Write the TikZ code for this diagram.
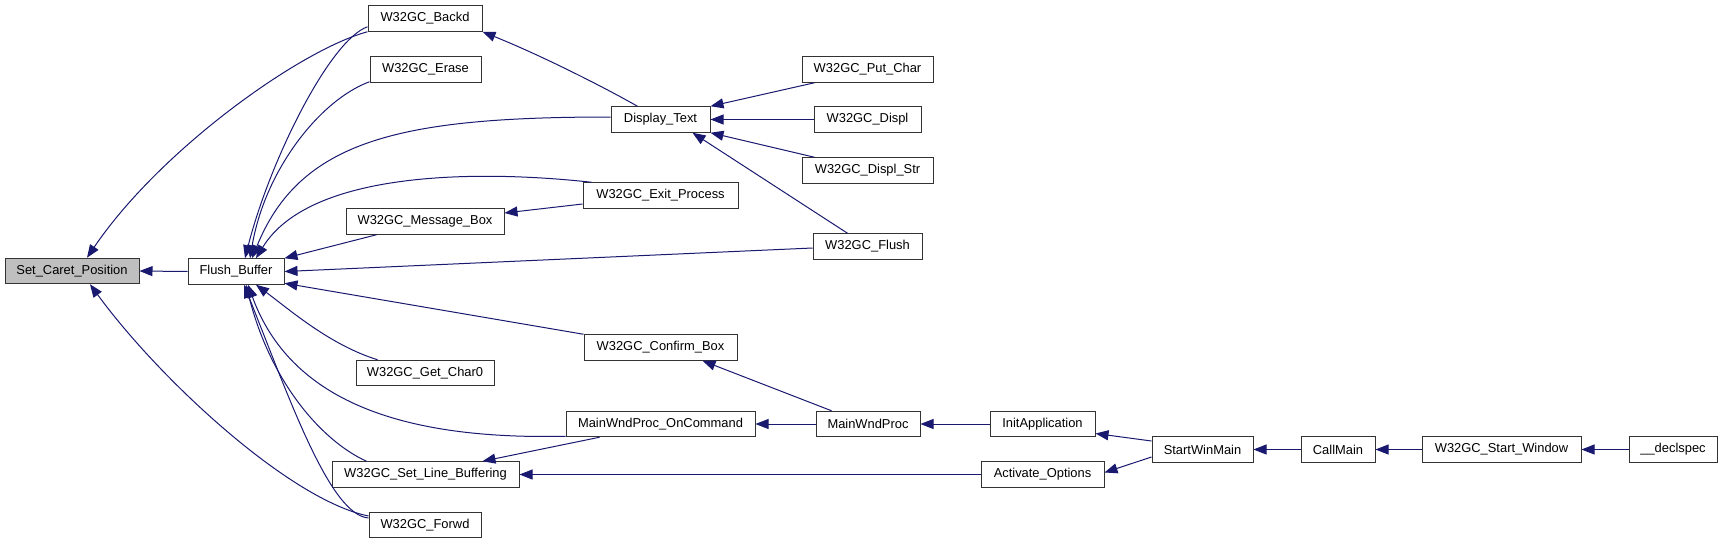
\documentclass[tikz,border=0pt]{standalone}
\usepackage{fontspec}
\setmainfont{Liberation Sans}
\usetikzlibrary{arrows.meta}
\definecolor{edgec}{HTML}{191970}
\definecolor{hl}{HTML}{BFBFBF}
\begin{document}
\begin{tikzpicture}[x=1pt,y=-1pt,
  box/.style={draw=black!80, line width=1pt, fill=white, inner sep=0pt,
    minimum height=25.5pt, font=\fontsize{12.9}{14}\selectfont},
  edge/.style={draw=edgec, line width=1pt, -{Triangle[length=13pt,width=10pt]}}]
\useasboundingbox (0,0) rectangle (1723,544);
% nodes
\node[box, minimum width=134pt, fill=hl] (SCP) at (72,271) {Set\_Caret\_Position};
\node[box, minimum width=96pt] (FB) at (236,271.5) {Flush\_Buffer};
\node[box, minimum width=114pt] (Backd) at (425,18.5) {W32GC\_Backd};
\node[box, minimum width=111pt] (Erase) at (425.5,69.5) {W32GC\_Erase};
\node[box, minimum width=158pt] (MsgBox) at (425,221.5) {W32GC\_Message\_Box};
\node[box, minimum width=138pt] (GetChar) at (425,373) {W32GC\_Get\_Char0};
\node[box, minimum width=187pt] (SetLine) at (425.5,474.5) {W32GC\_Set\_Line\_Buffering};
\node[box, minimum width=112pt] (Forwd) at (425,525) {W32GC\_Forwd};
\node[box, minimum width=99pt] (DispText) at (660.5,119.5) {Display\_Text};
\node[box, minimum width=155pt] (Exit) at (660.5,195.5) {W32GC\_Exit\_Process};
\node[box, minimum width=153pt] (Confirm) at (660.5,347.5) {W32GC\_Confirm\_Box};
\node[box, minimum width=189pt] (OnCmd) at (660.5,424) {MainWndProc\_OnCommand};
\node[box, minimum width=131pt] (PutChar) at (867.5,69.5) {W32GC\_Put\_Char};
\node[box, minimum width=107pt] (Displ) at (867.5,119.5) {W32GC\_Displ};
\node[box, minimum width=131pt] (DisplStr) at (867.5,170.5) {W32GC\_Displ\_Str};
\node[box, minimum width=109pt] (WFlush) at (867.5,246.5) {W32GC\_Flush};
\node[box, minimum width=104pt] (MWP) at (868,424) {MainWndProc};
\node[box, minimum width=105pt] (Init) at (1042.5,424) {InitApplication};
\node[box, minimum width=123pt] (Activ) at (1042.5,474.5) {Activate\_Options};
\node[box, minimum width=101pt] (SWM) at (1202.5,449.5) {StartWinMain};
\node[box, minimum width=74pt] (CallMain) at (1338,449.5) {CallMain};
\node[box, minimum width=159pt] (SW) at (1501.5,449.5) {W32GC\_Start\_Window};
\node[box, minimum width=88pt] (Decl) at (1673,449.5) {\_\_declspec};
% edges into Set_Caret_Position
\draw[edge] (FB.west) -- (SCP.east);
\draw[edge] (Backd.south west) .. controls (300,50) and (160,150) .. ([xshift=15pt]SCP.north);
\draw[edge] ([yshift=9pt]Forwd.west) .. controls (290,500) and (160,380) .. ([xshift=18pt]SCP.south);
% edges into Flush_Buffer
\draw[edge] ([yshift=5pt]Backd.south west) .. controls (330,40) and (270,160) .. ([xshift=9pt]FB.north);
\draw[edge] ([yshift=1pt]Erase.south west) .. controls (320,100) and (265,170) .. ([xshift=14pt]FB.north);
\draw[edge] ([yshift=2.5pt]DispText.west) .. controls (400,117) and (300,140) .. ([xshift=16pt]FB.north);
\draw[edge] ([xshift=9pt]Exit.north west) .. controls (480,170) and (310,170) .. ([xshift=20pt]FB.north);
\draw[edge] ([xshift=31pt]MsgBox.south west) -- (FB.north east);
\draw[edge] ([yshift=-1.5pt]WFlush.west) -- (FB.east);
\draw[edge] (Confirm.north west) -- ([yshift=1.5pt]FB.south east);
\draw[edge] ([xshift=22pt]GetChar.north west) .. controls (330,345) and (290,310) .. ([xshift=20pt]FB.south);
\draw[edge] ([yshift=1pt]OnCmd.south west) .. controls (400,440) and (290,400) .. ([xshift=12pt]FB.south);
\draw[edge] ([xshift=35pt]SetLine.north west) .. controls (320,440) and (270,380) .. ([xshift=10pt]FB.south);
\draw[edge] ([yshift=7pt]Forwd.west) .. controls (330,515) and (290,400) .. ([xshift=8pt]FB.south);
% edges into Display_Text and W32GC_Backd
\draw[edge] ([xshift=27pt]DispText.north west) .. controls (600,85) and (540,55) .. (Backd.south east);
\draw[edge] ([xshift=13pt]PutChar.south west) -- (DispText.north east);
\draw[edge] (Displ.west) -- (DispText.east);
\draw[edge] ([xshift=13pt]DisplStr.north west) -- (DispText.south east);
\draw[edge] ([xshift=35pt]WFlush.north west) -- ([xshift=82pt]DispText.south west);
% others
\draw[edge] ([yshift=-8.5pt]Exit.west) -- ([yshift=8.5pt]MsgBox.east);
\draw[edge] ([xshift=16pt]MWP.north west) -- ([xshift=119pt]Confirm.south west);
\draw[edge] (MWP.west) -- (OnCmd.east);
\draw[edge] ([xshift=34pt]OnCmd.south west) -- ([xshift=151pt]SetLine.north west);
\draw[edge] (Activ.west) -- (SetLine.east);
\draw[edge] (Init.west) -- (MWP.east);
\draw[edge] ([yshift=8.5pt]SWM.west) -- ([yshift=-9.5pt]Init.east);
\draw[edge] ([yshift=-7.5pt]SWM.west) -- ([yshift=2pt]Activ.east);
\draw[edge] (CallMain.west) -- (SWM.east);
\draw[edge] (SW.west) -- (CallMain.east);
\draw[edge] (Decl.west) -- (SW.east);
\end{tikzpicture}
\end{document}
